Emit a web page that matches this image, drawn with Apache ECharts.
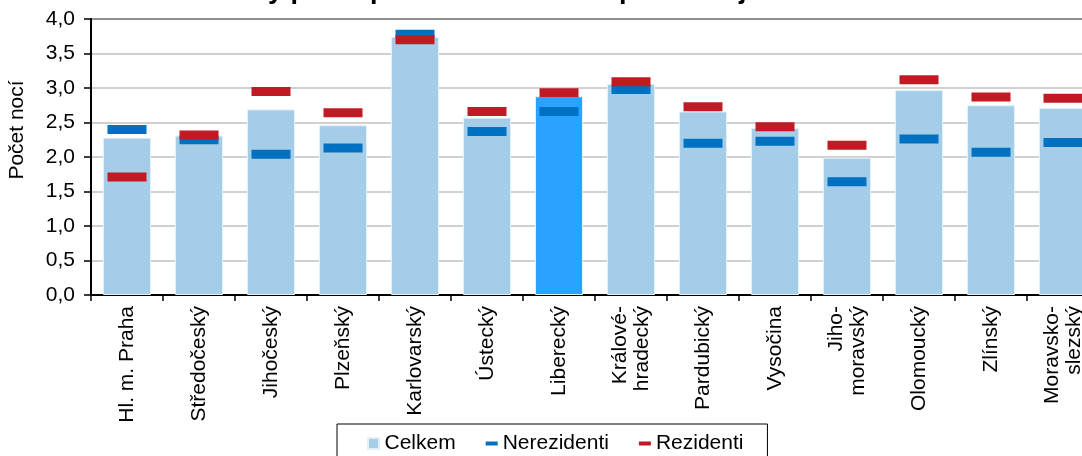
<!DOCTYPE html>
<html>
<head>
<meta charset="utf-8">
<script src="https://cdn.jsdelivr.net/npm/echarts@6/dist/echarts.min.js"></script>
<style>
html,body{margin:0;padding:0;background:#fff;}
#c{width:1082px;height:456px;}
</style>
</head>
<body>
<div id="c"></div>
<script>
var categories = ["Hl. m. Praha","Středočeský","Jihočeský","Plzeňský","Karlovarský","Ústecký","Liberecký","Králové-\nhradecký","Pardubický","Vysočina","Jiho-\nmoravský","Olomoucký","Zlínský","Moravsko-\nslezský"];
var celkem = [2.28, 2.31, 2.69, 2.46, 3.74, 2.57, 2.88, 3.06, 2.66, 2.42, 1.99, 2.97, 2.75, 2.71];
var nerezidenti = [2.40, 2.25, 2.04, 2.13, 3.78, 2.37, 2.66, 2.98, 2.20, 2.23, 1.64, 2.26, 2.07, 2.21];
var rezidenti = [1.71, 2.32, 2.95, 2.64, 3.70, 2.66, 2.93, 3.09, 2.73, 2.44, 2.17, 3.12, 2.87, 2.85];
var highlighted = "Liberecký";
var titleText = "Průměrný počet přenocování hostů podle krajů";
var yName = "Počet nocí";

var FONT = '"Liberation Sans", Arial, sans-serif';
var chart = echarts.init(document.getElementById('c'));

var celkemData = celkem.map(function(v, i){
  if (categories[i] === highlighted) {
    return {value: v, itemStyle: {color: '#29A3FF'}};
  }
  return v;
});

chart.setOption({
  animation: false,
  backgroundColor: '#fff',
  textStyle: {fontFamily: FONT},
  title: {
    text: titleText,
    left: 152,
    top: -28,
    textStyle: {fontFamily: FONT, fontSize: 27, fontWeight: 'bold', color: '#000'}
  },
  grid: {
    left: 91, width: 1008, top: 19, height: 276,
    outerBoundsMode: 'none',
    containLabel: false,
    show: true, borderColor: '#000', borderWidth: 2, backgroundColor: 'transparent'
  },
  legend: {
    left: 337, top: 424,
    orient: 'horizontal',
    borderColor: '#000', borderWidth: 1,
    padding: [9, 24, 14, 30],
    itemWidth: 12, itemHeight: 11, itemGap: 30,
    textStyle: {fontFamily: FONT, fontSize: 21, color: '#000'},
    data: [
      {name: 'Celkem', icon: 'path://M0,0H10V10H0Z'},
      {name: 'Nerezidenti', icon: 'path://M0,0H12V4H0Z'},
      {name: 'Rezidenti', icon: 'path://M0,0H12V4H0Z'}
    ]
  },
  xAxis: {
    type: 'category',
    data: categories,
    boundaryGap: true,
    axisLine: {lineStyle: {color: '#000', width: 2}},
    axisTick: {show: true, length: 6, lineStyle: {color: '#000', width: 1.5}},
    axisLabel: {
      rotate: 90, margin: 11, interval: 0,
      fontFamily: FONT, fontSize: 21, color: '#000', lineHeight: 22
    },
    splitLine: {show: false}
  },
  yAxis: {
    type: 'value',
    min: 0, max: 4, interval: 0.5,
    name: yName,
    nameLocation: 'middle',
    nameGap: 63,
    nameRotate: 90,
    nameTextStyle: {fontFamily: FONT, fontSize: 21, color: '#000', padding: [0, 0, 0, 54]},
    axisLine: {show: true, lineStyle: {color: '#000', width: 2}},
    axisTick: {show: true, length: 7, lineStyle: {color: '#000', width: 1.5}},
    axisLabel: {
      margin: 16, fontFamily: FONT, fontSize: 21, color: '#000',
      formatter: function(v){ return v.toFixed(1).replace('.', ','); }
    },
    splitLine: {show: true, lineStyle: {color: '#C0C0C0', width: 1.5}}
  },
  series: [
    {
      name: 'Celkem', type: 'bar', data: celkemData, barWidth: 48,
      itemStyle: {color: '#A6CDE8', borderColor: '#E4F0F8', borderWidth: 1},
      z: 2
    },
    {
      name: 'Nerezidenti', type: 'scatter', data: nerezidenti,
      symbol: 'rect', symbolSize: [39, 9],
      itemStyle: {color: '#0070C0', opacity: 1},
      z: 3
    },
    {
      name: 'Rezidenti', type: 'scatter', data: rezidenti,
      symbol: 'rect', symbolSize: [39, 9],
      itemStyle: {color: '#C01B24', opacity: 1},
      z: 4
    }
  ]
});
</script>
</body>
</html>
